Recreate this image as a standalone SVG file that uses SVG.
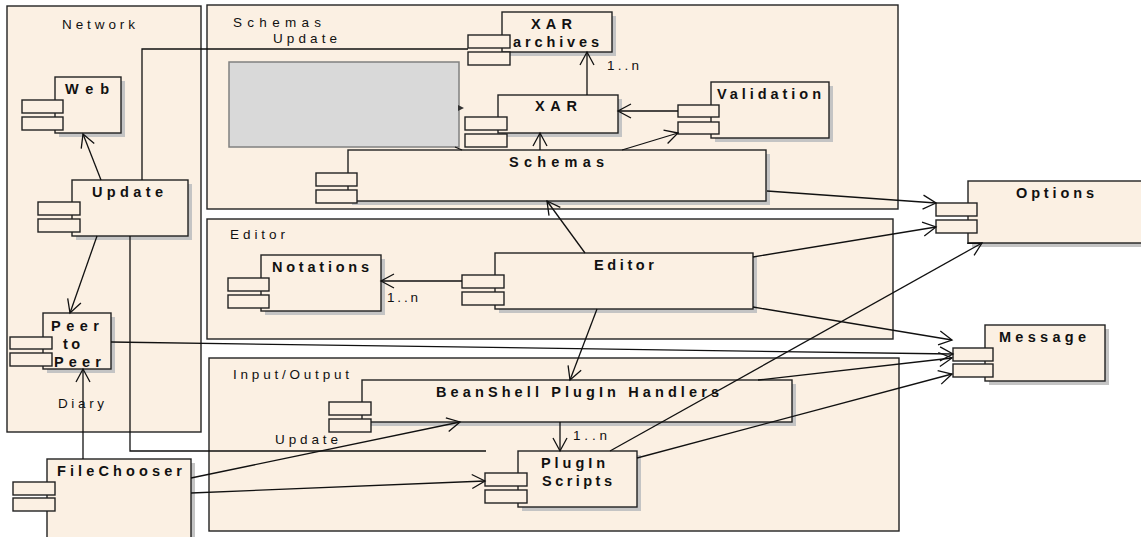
<svg xmlns="http://www.w3.org/2000/svg" width="1141" height="537" viewBox="0 0 1141 537">
<style>
.pkg{fill:#FBF0E3;stroke:#222;stroke-width:1.4}
.box{fill:#FBF0E3;stroke:#222;stroke-width:1.4}
.sh{fill:#C4C4C4}
.port{fill:#FBF0E3;stroke:#222;stroke-width:1.4}
.lbl{font-family:"Liberation Sans",Arial,sans-serif;font-weight:bold;font-size:14.5px;fill:#111}
.plbl{font-family:"Liberation Sans",Arial,sans-serif;font-size:13.5px;fill:#111}
.conn path{stroke:#111;stroke-width:1.3;fill:none}
.arr{marker-end:url(#a)}
</style>
<defs>
<marker id="a" markerUnits="userSpaceOnUse" markerWidth="20" markerHeight="20" viewBox="-16 -10 20 20" refX="0" refY="0" orient="auto" overflow="visible">
<path d="M-13,-7 L0,0 L-13,7" fill="none" stroke="#111" stroke-width="1.3"/>
</marker>
</defs>
<rect width="1141" height="537" fill="#fff"/>

<g id="pkg-network"><rect class="pkg" x="7" y="6" width="194" height="426"/><text class="plbl" x="62" y="29" textLength="73" lengthAdjust="spacing">Network</text></g>
<g id="pkg-schemas"><rect class="pkg" x="207" y="5" width="691" height="204"/><text class="plbl" x="233" y="27" textLength="88" lengthAdjust="spacing">Schemas</text><text class="plbl" x="273" y="43" textLength="64" lengthAdjust="spacing">Update</text></g>
<g id="pkg-editor"><rect class="pkg" x="207" y="219" width="686" height="120"/><text class="plbl" x="230" y="239" textLength="55" lengthAdjust="spacing">Editor</text></g>
<g id="pkg-io"><rect class="pkg" x="209" y="358" width="690" height="173"/><text class="plbl" x="233" y="379" textLength="116" lengthAdjust="spacing">Input/Output</text></g>

<g id="grey-note"><rect x="229" y="62" width="230" height="85" fill="#D9D9D9" stroke="#808080" stroke-width="1.5"/><polygon points="458,105 464,108 458,111" fill="#333"/></g>

<g id="web"><rect class="sh" x="59" y="81" width="66" height="56"/><rect class="box" x="55" y="77" width="66" height="56"/><rect class="port" x="22" y="100" width="41" height="13"/><rect class="port" x="22" y="117" width="41" height="13"/><text class="lbl" x="65" y="94" textLength="44" lengthAdjust="spacing">Web</text></g>
<g id="update"><rect class="sh" x="76" y="184" width="116" height="56"/><rect class="box" x="72" y="180" width="116" height="56"/><rect class="port" x="38" y="202" width="42" height="13"/><rect class="port" x="38" y="219" width="42" height="13"/><text class="lbl" x="92" y="197" textLength="71" lengthAdjust="spacing">Update</text></g>
<g id="peer"><rect class="sh" x="47" y="317" width="68" height="56"/><rect class="box" x="43" y="313" width="68" height="56"/><rect class="port" x="10" y="337" width="42" height="12"/><rect class="port" x="10" y="353" width="42" height="13"/><text class="lbl" x="51" y="331" textLength="48" lengthAdjust="spacing">Peer</text><text class="lbl" x="63" y="349" textLength="17" lengthAdjust="spacing">to</text><text class="lbl" x="54" y="367" textLength="47" lengthAdjust="spacing">Peer</text></g>
<g id="filechooser"><rect class="sh" x="51" y="463" width="144" height="90"/><rect class="box" x="47" y="459" width="144" height="90"/><rect class="port" x="13" y="482" width="42" height="13"/><rect class="port" x="13" y="498" width="42" height="13"/><text class="lbl" x="57" y="476" textLength="125" lengthAdjust="spacing">FileChooser</text></g>

<g id="xar-archives"><rect class="sh" x="506" y="16" width="110" height="40"/><rect class="box" x="502" y="12" width="110" height="40"/><rect class="port" x="468" y="35" width="42" height="13"/><rect class="port" x="468" y="52" width="42" height="13"/><text class="lbl" x="531" y="29" textLength="41" lengthAdjust="spacing">XAR</text><text class="lbl" x="513" y="47" textLength="86" lengthAdjust="spacing">archives</text></g>
<g id="xar"><rect class="sh" x="502" y="99" width="120" height="38"/><rect class="box" x="498" y="95" width="120" height="38"/><rect class="port" x="465" y="117" width="42" height="13"/><rect class="port" x="465" y="134" width="42" height="13"/><text class="lbl" x="535" y="111" textLength="42" lengthAdjust="spacing">XAR</text></g>
<g id="validation"><rect class="sh" x="715" y="86" width="118" height="56"/><rect class="box" x="711" y="82" width="118" height="56"/><rect class="port" x="678" y="105" width="41" height="12"/><rect class="port" x="678" y="122" width="41" height="12"/><text class="lbl" x="717" y="99" textLength="104" lengthAdjust="spacing">Validation</text></g>
<g id="schemas"><rect class="sh" x="352" y="154" width="418" height="51"/><rect class="box" x="348" y="150" width="418" height="51"/><rect class="port" x="316" y="173" width="41" height="13"/><rect class="port" x="316" y="190" width="41" height="13"/><text class="lbl" x="509" y="167" textLength="95" lengthAdjust="spacing">Schemas</text></g>

<g id="options"><rect class="sh" x="972" y="185" width="180" height="62"/><rect class="box" x="968" y="181" width="180" height="62"/><rect class="port" x="936" y="203" width="41" height="13"/><rect class="port" x="936" y="220" width="41" height="13"/><text class="lbl" x="1016" y="198" textLength="78" lengthAdjust="spacing">Options</text></g>
<g id="message"><rect class="sh" x="989" y="329" width="120" height="56"/><rect class="box" x="985" y="325" width="120" height="56"/><rect class="port" x="953" y="348" width="40" height="13"/><rect class="port" x="953" y="364" width="40" height="13"/><text class="lbl" x="999" y="342" textLength="87" lengthAdjust="spacing">Message</text></g>

<g id="notations"><rect class="sh" x="265" y="259" width="120" height="56"/><rect class="box" x="261" y="255" width="120" height="56"/><rect class="port" x="228" y="278" width="41" height="13"/><rect class="port" x="228" y="295" width="41" height="13"/><text class="lbl" x="272" y="272" textLength="97" lengthAdjust="spacing">Notations</text></g>
<g id="editor"><rect class="sh" x="499" y="257" width="258" height="56"/><rect class="box" x="495" y="253" width="258" height="56"/><rect class="port" x="462" y="275" width="42" height="13"/><rect class="port" x="462" y="292" width="42" height="13"/><text class="lbl" x="594" y="270" textLength="60" lengthAdjust="spacing">Editor</text></g>

<g id="beanshell"><rect class="sh" x="366" y="384" width="430" height="42"/><rect class="box" x="362" y="380" width="430" height="42"/><rect class="port" x="329" y="402" width="42" height="13"/><rect class="port" x="329" y="419" width="42" height="13"/><text class="lbl" x="436" y="397" textLength="283" lengthAdjust="spacing">BeanShell PlugIn Handlers</text></g>
<g id="pluginscripts"><rect class="sh" x="522" y="455" width="119" height="56"/><rect class="box" x="518" y="451" width="119" height="56"/><rect class="port" x="485" y="473" width="42" height="13"/><rect class="port" x="485" y="490" width="42" height="13"/><text class="lbl" x="541" y="468" textLength="64" lengthAdjust="spacing">PlugIn</text><text class="lbl" x="542" y="486" textLength="70" lengthAdjust="spacing">Scripts</text></g>

<g id="connectors" class="conn">
<path class="arr" d="M101,180 L83,134"/>
<path class="arr" d="M97,236 L70,313"/>
<path d="M142,180 V49 H468"/>
<path d="M130,236 V451 H486"/>
<path class="arr" d="M111,342 L953,354"/>
<path class="arr" d="M83,459 V369"/>
<path class="arr" d="M191,478 L460,422"/>
<path class="arr" d="M191,493 L485,481"/>
<path class="arr" d="M462,281 H381"/>
<path class="arr" d="M585,253 L547,201"/>
<path class="arr" d="M597,309 L570,380"/>
<path class="arr" d="M753,257 L936,227"/>
<path class="arr" d="M753,307 L952,340"/>
<path class="arr" d="M767,191 L936,203"/>
<path class="arr" d="M540,150 V133"/>
<path class="arr" d="M622,150 L678,133"/>
<path class="arr" d="M678,111 H618"/>
<path class="arr" d="M587,95 V52"/>
<path class="arr" d="M560,422 V451"/>
<path class="arr" d="M758,380 L952,358"/>
<path class="arr" d="M637,458 L952,374"/>
<path class="arr" d="M610,451 L982,243"/>
<path d="M455,147 L462,150"/>
</g>
<g id="labels">
<text class="plbl" x="607" y="70" textLength="32" lengthAdjust="spacing">1..n</text>
<text class="plbl" x="387" y="302" textLength="31" lengthAdjust="spacing">1..n</text>
<text class="plbl" x="573" y="440" textLength="34" lengthAdjust="spacing">1..n</text>
<text class="plbl" x="58" y="408" textLength="46" lengthAdjust="spacing">Diary</text>
<text class="plbl" x="275" y="444" textLength="63" lengthAdjust="spacing">Update</text>
</g>
</svg>
